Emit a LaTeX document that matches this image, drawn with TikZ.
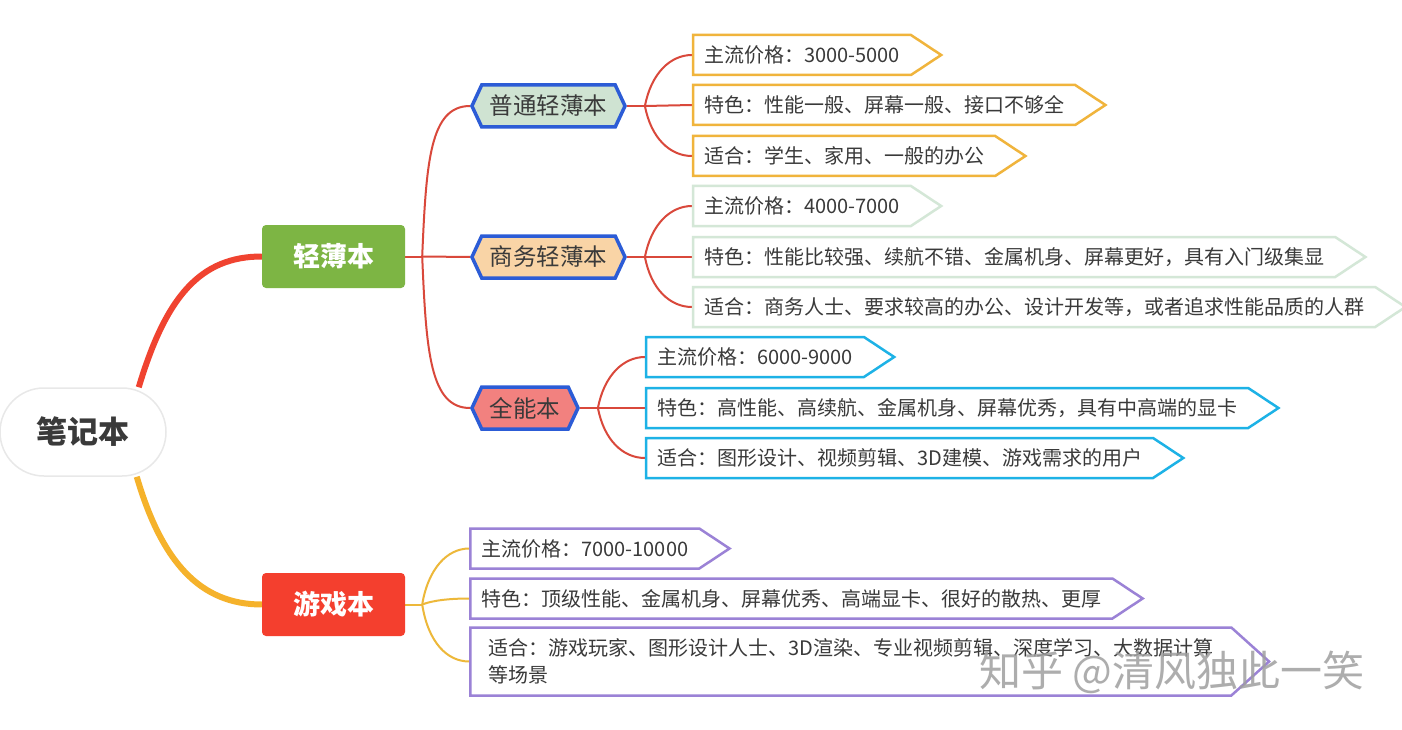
\documentclass[tikz,border=0pt]{standalone}
\usepackage{fontspec}
\setmainfont{Noto Sans CJK SC}
\usetikzlibrary{shapes.symbols,calc,backgrounds}

\definecolor{txt}{HTML}{3A3A3A}
\definecolor{rootred}{HTML}{F04330}
\definecolor{rootyel}{HTML}{F5B22B}
\definecolor{topicgreen}{HTML}{7DB544}
\definecolor{topicred}{HTML}{F43F2E}
\definecolor{hexblue}{HTML}{2C5CD6}
\definecolor{subgreen}{HTML}{CFE3D2}
\definecolor{subpeach}{HTML}{F9D4A6}
\definecolor{subred}{HTML}{F2817F}
\definecolor{leaforange}{HTML}{F0B43C}
\definecolor{leafpale}{HTML}{D4E7D7}
\definecolor{leafcyan}{HTML}{1DB2E6}
\definecolor{leafpurple}{HTML}{9B82D6}
\definecolor{redline}{HTML}{D9483B}
\definecolor{yelline}{HTML}{EDB83A}

\begin{document}
\begin{tikzpicture}[x=1pt, y=-1pt,
  root/.style={rectangle, rounded corners=44pt, draw=gray!18, line width=1.5pt, fill=white,
               minimum width=166pt, minimum height=88pt, text=txt,
               font=\fontsize{31}{31}\selectfont\bfseries},
  topic/.style={rectangle, rounded corners=4pt, minimum width=143pt, minimum height=63pt,
                text=white, font=\fontsize{27}{27}\selectfont\bfseries},
  sub/.style={signal, signal to=west and east, signal pointer angle=130, draw=hexblue,
              line width=3.5pt, minimum height=42pt, inner xsep=8pt, text=txt,
              font=\fontsize{23.5}{23.5}\selectfont, anchor=west},
  leaf/.style={signal, signal to=east, signal pointer angle=67, line width=2.5pt, fill=white,
               minimum height=40pt, inner xsep=11pt, text=txt,
               font=\fontsize{20}{20}\selectfont, anchor=west},
  trunk/.style={line width=6pt},
  twig/.style={line width=2pt},
  watermark/.style={text=gray!75, opacity=0.85, font=\fontsize{42}{42}\selectfont}
]

\useasboundingbox (0,0) rectangle (1402,730);

% root and main topics
\node[root] (nb) at (83,432) {笔记本};
\node[topic, fill=topicgreen] (qb) at (333.5,256.5) {轻薄本};
\node[topic, fill=topicred]   (yx) at (333.5,604.5) {游戏本};

% subtopics of 轻薄本
\coordinate (f1) at ($(qb.east)+(17,0)$);
\node[sub, fill=subgreen] (pt) at (470,106) {普通轻薄本};
\node[sub, fill=subpeach] (sw) at (470,257) {商务轻薄本};
\node[sub, fill=subred]   (qn) at (470,408) {全能本};

% leaves
\coordinate (f11) at ($(pt.east)+(18,0)$);
\coordinate (f12) at ($(sw.east)+(18,0)$);
\coordinate (f13) at ($(qn.east)+(18,0)$);
\coordinate (f2)  at ($(yx.east)+(17,0)$);

\node[leaf, draw=leaforange] (pt1) at ($(f11)+(47,-51)$) {主流价格：3000-5000};
\node[leaf, draw=leaforange] (pt2) at ($(f11)+(47,-1)$)  {特色：性能一般、屏幕一般、接口不够全};
\node[leaf, draw=leaforange] (pt3) at ($(f11)+(47,50)$)  {适合：学生、家用、一般的办公};

\node[leaf, draw=leafpale] (sw1) at ($(f12)+(47,-51)$) {主流价格：4000-7000};
\node[leaf, draw=leafpale] (sw2) at ($(f12)+(47,0)$)   {特色：性能比较强、续航不错、金属机身、屏幕更好，具有入门级集显};
\node[leaf, draw=leafpale] (sw3) at ($(f12)+(47,50)$)  {适合：商务人士、要求较高的办公、设计开发等，或者追求性能品质的人群};

\node[leaf, draw=leafcyan] (qn1) at ($(f13)+(47,-51)$) {主流价格：6000-9000};
\node[leaf, draw=leafcyan] (qn2) at ($(f13)+(47,0)$)   {特色：高性能、高续航、金属机身、屏幕优秀，具有中高端的显卡};
\node[leaf, draw=leafcyan] (qn3) at ($(f13)+(47,50)$)  {适合：图形设计、视频剪辑、3D建模、游戏需求的用户};

\node[leaf, draw=leafpurple] (yx1) at ($(f2)+(47,-56)$) {主流价格：7000-10000};
\node[leaf, draw=leafpurple] (yx2) at ($(f2)+(47,-6)$)  {特色：顶级性能、金属机身、屏幕优秀、高端显卡、很好的散热、更厚};
\node[leaf, draw=leafpurple, minimum height=68pt, signal pointer angle=84, inner xsep=18pt,
      align=left, font=\fontsize{20}{27}\selectfont] (yx3) at ($(f2)+(47,57)$)
      {适合：游戏玩家、图形设计人士、3D渲染、专业视频剪辑、深度学习、大数据计算\\等场景};

\node[watermark] (wm) at (1172,672) {知乎 @清风独此一笑};

\begin{scope}[on background layer]
\fill[white] (0,0) rectangle (1402,730);

\draw[trunk, rootred] ([xshift=-28pt]nb.north east) .. controls +(27,-90) and +(-62,0) .. (qb.west);
\draw[trunk, rootyel] ([xshift=-30pt]nb.south east) .. controls +(25,85) and +(-62,0) .. (yx.west);

\draw[twig, redline] (qb.east) -- (f1);
\draw[twig, redline] (f1) .. controls +(4,-95) and +(-40,0) .. (pt.west);
\draw[twig, redline] (f1) -- (sw.west);
\draw[twig, redline] (f1) .. controls +(4,95) and +(-40,0) .. (qn.west);

\foreach \s in {pt,sw,qn}{
  \draw[twig, redline] (\s.east) -- ($(\s.east)+(18,0)$);
}
\foreach \f/\s in {f11/pt, f12/sw, f13/qn}{
  \draw[twig, redline] (\f) .. controls +(6,-32) and +(-22,0) .. (\s1.west);
  \draw[twig, redline] (\f) -- (\s2.west);
  \draw[twig, redline] (\f) .. controls +(6,32) and +(-22,0) .. (\s3.west);
}

\draw[twig, yelline] (yx.east) -- (f2);
\draw[twig, yelline] (f2) .. controls +(6,-36) and +(-22,0) .. (yx1.west);
\draw[twig, yelline] (f2) .. controls +(10,-4) and +(-20,0) .. (yx2.west);
\draw[twig, yelline] (f2) .. controls +(6,38) and +(-22,0) .. (yx3.west);
\end{scope}

\end{tikzpicture}
\end{document}
